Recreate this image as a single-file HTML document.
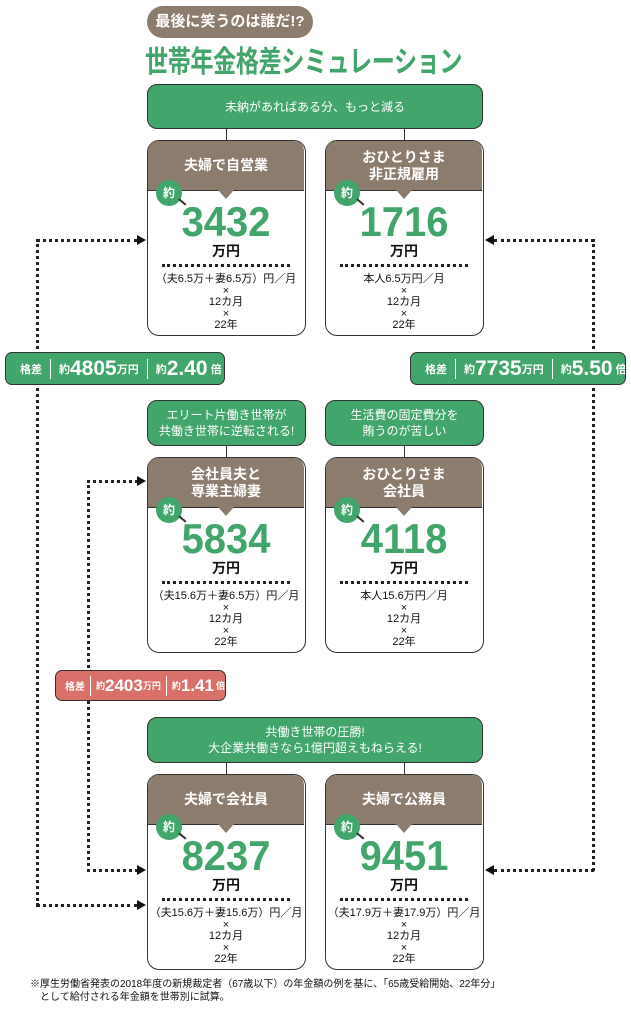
<!DOCTYPE html><html><head><meta charset="utf-8"><style>
*{margin:0;padding:0;box-sizing:border-box}
body{width:631px;height:1012px;background:#fff;position:relative;overflow:hidden;font-family:"Liberation Sans","Noto Sans CJK JP",sans-serif;color:#111}
.a{position:absolute}
.gbox{position:absolute;background:#42a56c;border:1.5px solid #333;border-radius:10px;color:#fff;font-size:12px;text-align:center;display:flex;align-items:center;justify-content:center;line-height:16px}
.card{position:absolute;width:159px;height:196px;border:1.5px solid #333;border-radius:12px;overflow:visible;background:#fff}
.hd{position:absolute;left:0;top:0;width:156px;height:50px;background:#8c7c6e;border-radius:10px 10px 0 0;color:#fff;font-weight:bold;font-size:14px;text-align:center;display:flex;align-items:center;justify-content:center;line-height:17px;border-bottom:1.5px solid #333}
.notch{position:absolute;left:70px;top:49px;width:0;height:0;border-left:8px solid transparent;border-right:8px solid transparent;border-top:9px solid #8c7c6e}
.circ{position:absolute;left:8px;top:39px;width:26px;height:26px;border-radius:50%;background:#42a56c;color:#fff;font-size:12px;font-weight:bold;text-align:center;line-height:26px}
.tick{position:absolute;left:30px;top:60px;width:9px;height:1.5px;background:#333;transform:rotate(40deg)}
.num{position:absolute;left:0;width:156px;top:58px;text-align:center;color:#42a56c;font-weight:bold;font-size:42px;line-height:46px;transform:scaleX(0.95)}
.man{position:absolute;left:0;width:156px;top:100px;text-align:center;font-weight:bold;font-size:14px}
.dots{position:absolute;left:14px;width:128px;top:123px;border-top:3px dotted #222}
.calc{position:absolute;left:0;width:156px;top:133px;text-align:center;font-size:11px;line-height:11.5px}
.badge{position:absolute;border:1.5px solid #333;border-radius:7px;color:#fff;display:flex;align-items:center;font-weight:bold;white-space:nowrap;overflow:hidden}
.badge .s{font-size:11px}
.badge .b{font-size:21px}
.badge .sep{flex-shrink:0;width:1px;height:20px;background:#fff;margin:0 8px}
.vl{position:absolute;width:0;border-left:3px dotted #222}
.hl{position:absolute;height:0;border-top:3px dotted #222}
.arR{position:absolute;width:0;height:0;border-top:5px solid transparent;border-bottom:5px solid transparent;border-left:9px solid #111}
.arL{position:absolute;width:0;height:0;border-top:5px solid transparent;border-bottom:5px solid transparent;border-right:9px solid #111}
.ln{position:absolute;width:1px;background:#333}
</style></head><body>
<div class="a" style="left:147px;top:6px;width:166px;height:32px;background:#8c7c6e;border-radius:16px;color:#fff;font-weight:bold;font-size:15px;line-height:32px;text-align:center">最後に笑うのは誰だ!?</div>
<div class="a" style="left:145px;top:44px;font-size:30px;font-weight:bold;color:#42a56c;line-height:38px;letter-spacing:-0.5px;white-space:nowrap;transform:scaleX(0.77);transform-origin:left center">世帯年金格差シミュレーション</div>

<div class="vl" style="left:36px;top:239px;height:667px"></div>
<div class="hl" style="left:36px;top:239px;width:102px"></div>
<div class="arR" style="left:137px;top:235px"></div>
<div class="hl" style="left:36px;top:904px;width:102px"></div>
<div class="arR" style="left:137px;top:900px"></div>

<div class="vl" style="left:592px;top:239px;height:632px"></div>
<div class="hl" style="left:494px;top:239px;width:100px"></div>
<div class="arL" style="left:485px;top:235px"></div>
<div class="hl" style="left:494px;top:869px;width:100px"></div>
<div class="arL" style="left:485px;top:865px"></div>

<div class="vl" style="left:87px;top:480px;height:392px"></div>
<div class="hl" style="left:87px;top:480px;width:51px"></div>
<div class="arR" style="left:137px;top:476px"></div>
<div class="hl" style="left:87px;top:869px;width:51px"></div>
<div class="arR" style="left:137px;top:865px"></div>

<div class="gbox" style="left:147px;top:84px;width:336px;height:45px">未納があればある分、もっと減る</div>
<div class="ln" style="left:226px;top:129px;height:12px"></div>
<div class="ln" style="left:404px;top:129px;height:12px"></div>

<div class="card" style="left:147px;top:140px"><div class="hd">夫婦で自営業</div><div class="notch"></div><div class="circ">約</div><div class="tick"></div><div class="num">3432</div><div class="man">万円</div><div class="dots"></div><div class="calc">（夫6.5万＋妻6.5万）円／月<br>×<br>12カ月<br>×<br>22年</div></div>
<div class="card" style="left:325px;top:140px"><div class="hd">おひとりさま<br>非正規雇用</div><div class="notch"></div><div class="circ">約</div><div class="tick"></div><div class="num">1716</div><div class="man">万円</div><div class="dots"></div><div class="calc">本人6.5万円／月<br>×<br>12カ月<br>×<br>22年</div></div>

<div class="badge" style="left:5px;top:352px;width:220px;height:33px;background:#42a56c;padding-left:14px"><span class="s">格差</span><span class="sep"></span><span class="s">約</span><span class="b">4805</span><span class="s">万円</span><span class="sep"></span><span class="s">約</span><span class="b">2.40</span><span class="s" style="margin-left:3px">倍</span></div>
<div class="badge" style="left:410px;top:352px;width:216px;height:33px;background:#42a56c;padding-left:14px"><span class="s">格差</span><span class="sep"></span><span class="s">約</span><span class="b">7735</span><span class="s">万円</span><span class="sep"></span><span class="s">約</span><span class="b">5.50</span><span class="s" style="margin-left:3px">倍</span></div>

<div class="gbox" style="left:147px;top:400px;width:159px;height:46px">エリート片働き世帯が<br>共働き世帯に逆転される!</div>
<div class="gbox" style="left:325px;top:400px;width:159px;height:46px">生活費の固定費分を<br>賄うのが苦しい</div>
<div class="ln" style="left:226px;top:446px;height:12px"></div>
<div class="ln" style="left:404px;top:446px;height:12px"></div>
<div class="card" style="left:147px;top:457px"><div class="hd">会社員夫と<br>専業主婦妻</div><div class="notch"></div><div class="circ">約</div><div class="tick"></div><div class="num">5834</div><div class="man">万円</div><div class="dots"></div><div class="calc">（夫15.6万＋妻6.5万）円／月<br>×<br>12カ月<br>×<br>22年</div></div>
<div class="card" style="left:325px;top:457px"><div class="hd">おひとりさま<br>会社員</div><div class="notch"></div><div class="circ">約</div><div class="tick"></div><div class="num">4118</div><div class="man">万円</div><div class="dots"></div><div class="calc">本人15.6万円／月<br>×<br>12カ月<br>×<br>22年</div></div>

<div class="badge" style="left:55px;top:670px;width:171px;height:31px;background:#d9706a;padding-left:9px"><span class="s" style="font-size:10px">格差</span><span class="sep" style="margin:0 5px"></span><span class="s" style="font-size:9px">約</span><span class="b" style="font-size:17px">2403</span><span class="s" style="font-size:9px">万円</span><span class="sep" style="margin:0 5px"></span><span class="s" style="font-size:9px">約</span><span class="b" style="font-size:17px">1.41</span><span class="s" style="margin-left:2px;font-size:9px">倍</span></div>

<div class="gbox" style="left:147px;top:717px;width:336px;height:46px">共働き世帯の圧勝!<br>大企業共働きなら1億円超えもねらえる!</div>
<div class="ln" style="left:226px;top:763px;height:12px"></div>
<div class="ln" style="left:404px;top:763px;height:12px"></div>
<div class="card" style="left:147px;top:774px"><div class="hd">夫婦で会社員</div><div class="notch"></div><div class="circ">約</div><div class="tick"></div><div class="num">8237</div><div class="man">万円</div><div class="dots"></div><div class="calc">（夫15.6万＋妻15.6万）円／月<br>×<br>12カ月<br>×<br>22年</div></div>
<div class="card" style="left:325px;top:774px"><div class="hd">夫婦で公務員</div><div class="notch"></div><div class="circ">約</div><div class="tick"></div><div class="num">9451</div><div class="man">万円</div><div class="dots"></div><div class="calc">（夫17.9万＋妻17.9万）円／月<br>×<br>12カ月<br>×<br>22年</div></div>

<div class="a" style="left:30px;top:978px;font-size:10px;line-height:13px;white-space:nowrap">※厚生労働省発表の2018年度の新規裁定者（67歳以下）の年金額の例を基に、「65歳受給開始、22年分」<br>　として給付される年金額を世帯別に試算。</div>
</body></html>
